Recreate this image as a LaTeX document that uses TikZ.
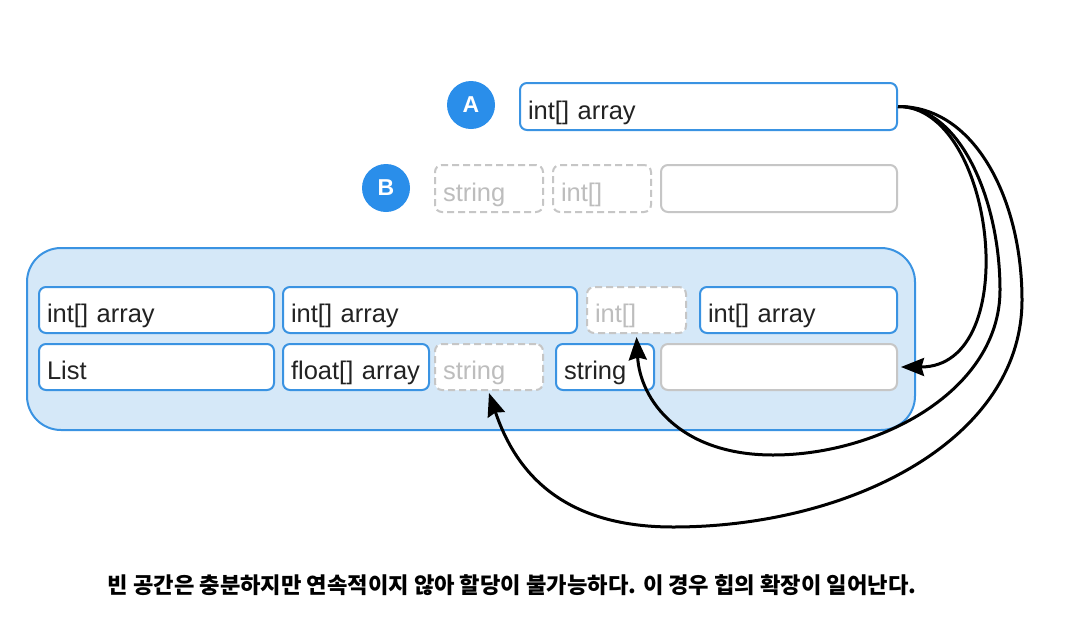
\documentclass[tikz,border=0pt]{standalone}
\usepackage{fontspec}
\setmainfont{Liberation Sans}
\newfontfamily\kr{Noto Sans CJK KR}
\usetikzlibrary{arrows.meta}
\definecolor{blu}{HTML}{3A93E2}
\definecolor{circ}{HTML}{2A8EEA}
\definecolor{cont}{HTML}{D5E8F8}
\definecolor{gr}{HTML}{C6C6C6}
\definecolor{grt}{HTML}{BDBDBD}
\definecolor{ink}{HTML}{222222}
\begin{document}
\begin{tikzpicture}[x=1pt,y=-1pt,
  cell/.style={rectangle, rounded corners=7pt, line width=2pt, minimum height=46pt,
    text height=25pt, text depth=0pt, inner xsep=8pt, inner ysep=0pt, align=left,
    font=\fontsize{25.5}{25.5}\selectfont},
  full/.style={cell, draw=blu, fill=white, text=ink},
  ghost/.style={cell, draw=gr, dash pattern=on 7pt off 4pt, fill=white, text=grt},
  blank/.style={cell, draw=gr, fill=white},
  badge/.style={circle, fill=circ, minimum size=48pt, inner sep=0pt, text=white,
    font=\bfseries\fontsize{23}{23}\selectfont},
  arr/.style={line width=3pt, draw=black, -{Stealth[length=23pt,width=18pt,inset=2.5pt]}}]
\useasboundingbox (0,0) rectangle (1065,635);
\fill[white] (0,0) rectangle (1065,635);

% heap container
\node[rectangle, rounded corners=34pt, draw=blu, fill=cont, line width=2pt,
  minimum width=888pt, minimum height=182pt] (heap) at (471,339) {};

% A
\node[badge] (ca) at (471,105) {A};
\node[full, text width=361pt, minimum height=47pt] (a) at (708.5,106.5) {int[] array};

% B
\node[badge] (cb) at (386,188) {B};
\node[ghost, text width=92pt, minimum height=47pt] (bs) at (489,188.5) {string};
\node[ghost, text width=82pt, minimum height=47pt] (bi) at (602,188.5) {int[]};
\node[blank, text width=220pt, minimum height=47pt] (be) at (779,188.5) {};

% row 1
\node[full, text width=219pt] (r1a) at (156.5,310) {int[] array};
\node[full, text width=278pt] (r1b) at (430,310) {int[] array};
\node[ghost, text width=83pt] (r1c) at (636.5,310) {int[]};
\node[full, text width=181pt] (r1d) at (798.5,310) {int[] array};

% row 2
\node[full, text width=219pt] (r2a) at (156.5,367) {List};
\node[full, text width=130pt] (r2b) at (356,367) {float[] array};
\node[ghost, text width=92pt] (r2c) at (489,367) {string};
\node[full, text width=82pt] (r2d) at (605,367) {string};
\node[blank, text width=220pt] (r2e) at (779,367) {};

% arrows
\draw[arr] (a.east) .. controls (995,106) and (1025,367) .. ([xshift=3pt]r2e.east);
\draw[arr] (a.east) .. controls (960,106) and (1000,200) .. (1000,290)
  .. controls (1000,390) and (880,455) .. (773,455)
  .. controls (680,455) and (640,400) .. ([yshift=-3pt]r1c.south);
\draw[arr] (a.east) .. controls (975,106) and (1022,200) .. (1022,300)
  .. controls (1022,440) and (850,527) .. (673,527)
  .. controls (560,527) and (515,470) .. ([yshift=-2pt]r2c.south);

% caption
\node[font=\kr\bfseries\fontsize{22.2}{22.2}\selectfont, text=black] (cap) at (512,585)
  {빈 공간은 충분하지만 연속적이지 않아 할당이 불가능하다. 이 경우 힙의 확장이 일어난다.};
\end{tikzpicture}
\end{document}
